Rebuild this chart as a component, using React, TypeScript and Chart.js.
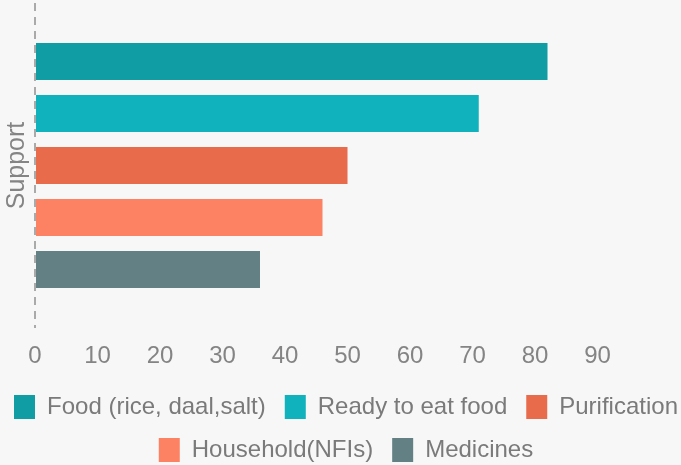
import React, { useEffect, useRef } from "react";
import { Chart, registerables } from "chart.js";

Chart.register(...registerables);

const categories = ["Support"];
const seriesNames = ["Food (rice, daal,salt)", "Ready to eat food", "Purification", "Household(NFIs)", "Medicines"];
const seriesValues = [82, 71, 50, 46, 36];
const seriesColors = ["#109DA4", "#10B3BD", "#E86B4C", "#FD8264", "#638084"];
const xTicks = [0, 10, 20, 30, 40, 50, 60, 70, 80, 90];

const FONT = "Liberation Sans";

export default function App() {
  const ref = useRef<HTMLCanvasElement | null>(null);
  useEffect(() => {
    document.body.style.margin = "0";
    document.body.style.background = "#F7F7F7";
    const ctx = ref.current!;
    const chart = new Chart(ctx, {
      type: "bar",
      data: {
        labels: categories,
        datasets: seriesNames.map((name, i) => ({
          label: name,
          data: [seriesValues[i]],
          backgroundColor: seriesColors[i],
          borderWidth: 0,
          barPercentage: 0.71,
          categoryPercentage: 0.8,
        })),
      },
      options: {
        indexAxis: "y",
        animation: false,
        responsive: false,
        maintainAspectRatio: false,
        layout: { padding: { top: 3, right: 0, left: 0, bottom: 0 } },
        plugins: {
          tooltip: { enabled: false },
          legend: {
            position: "bottom",
            labels: {
              font: { family: FONT, size: 24 },
              color: "#7A7A7A",
              boxWidth: 21,
              boxHeight: 24,
              padding: 19,
            },
          },
        },
        scales: {
          x: {
            min: 0,
            max: 106.56,
            afterBuildTicks: (axis: any) => {
              axis.ticks = xTicks.map((v) => ({ value: v }));
            },
            afterFit: (axis: any) => {
              axis.height = 48;
            },
            grid: {
              display: true,
              drawTicks: false,
              lineWidth: 2,
              color: (c: any) => (c.index === 0 ? "#AAAAAA" : "rgba(0,0,0,0)"),
            },
            border: { display: false, dash: [8, 6] },
            ticks: {
              font: { family: FONT, size: 24 },
              color: "#848484",
              padding: 14,
            },
          },
          y: {
            grid: { display: false, drawTicks: false },
            border: { display: false },
            ticks: { display: false },
            title: {
              display: true,
              text: "Support",
              font: { family: FONT, size: 25 },
              color: "#848484",
              padding: { top: 11, bottom: 3 },
            },
          },
        },
      },
    });
    return () => chart.destroy();
  }, []);
  return (
    <div style={{ width: 681, height: 465, background: "#F7F7F7", overflow: "hidden", position: "relative" }}>
      <canvas ref={ref} width={710} height={472} style={{ position: "absolute", left: -9, top: 0 }} />
    </div>
  );
}
